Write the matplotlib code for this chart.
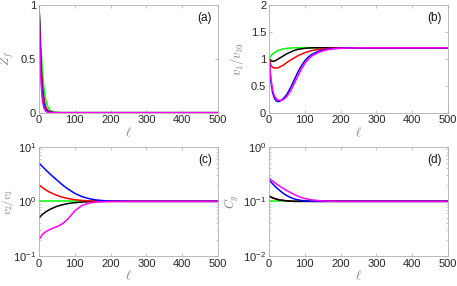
import matplotlib
matplotlib.use("Agg")
import matplotlib.pyplot as plt
from matplotlib.ticker import LogLocator, NullFormatter
from matplotlib.transforms import blended_transform_factory

plt.rcParams['font.family'] = ['Liberation Sans', 'DejaVu Sans']
plt.rcParams['mathtext.fontset'] = 'cm'

colors = {'green': '#00ff00', 'black': '#000000', 'red': '#ff0000', 'blue': '#0000ff', 'magenta': '#ff00ff'}
order = ['green', 'black', 'red', 'blue', 'magenta']

# (a) Z_f
ell_a = [0, 2, 4, 6, 8, 10, 14, 18, 24, 30, 40, 60, 500]
zf = {
    'green':   [1, 0.86, 0.72, 0.58, 0.46, 0.36, 0.22, 0.13, 0.06, 0.025, 0.005, 0, 0],
    'black':   [1, 0.78, 0.58, 0.42, 0.30, 0.22, 0.11, 0.055, 0.02, 0.008, 0.001, 0, 0],
    'red':     [1, 0.76, 0.56, 0.40, 0.28, 0.20, 0.10, 0.05, 0.018, 0.006, 0.001, 0, 0],
    'blue':    [1, 0.72, 0.50, 0.34, 0.23, 0.15, 0.07, 0.03, 0.01, 0.003, 0, 0, 0],
    'magenta': [1, 0.66, 0.42, 0.27, 0.17, 0.10, 0.04, 0.015, 0.004, 0.001, 0, 0, 0],
}

# (b) v1/v10
ell_b = [0, 5, 10, 15, 20, 25, 30, 40, 50, 60, 70, 80, 90, 100, 110, 120, 140, 160, 180, 200, 250, 300, 500]
v1 = {
    'green':   [1.0, 1.05, 1.08, 1.11, 1.13, 1.15, 1.16, 1.18, 1.19, 1.195, 1.2, 1.2, 1.2, 1.2, 1.2, 1.2, 1.2, 1.2, 1.2, 1.2, 1.2, 1.2, 1.2],
    'black':   [1.0, 0.96, 0.95, 0.955, 0.97, 0.99, 1.01, 1.05, 1.09, 1.12, 1.15, 1.17, 1.18, 1.19, 1.195, 1.2, 1.2, 1.2, 1.2, 1.2, 1.2, 1.2, 1.2],
    'red':     [1.0, 0.88, 0.84, 0.825, 0.825, 0.83, 0.845, 0.88, 0.93, 0.97, 1.01, 1.05, 1.08, 1.11, 1.13, 1.15, 1.17, 1.185, 1.195, 1.2, 1.2, 1.2, 1.2],
    'blue':    [1.0, 0.6, 0.37, 0.27, 0.22, 0.205, 0.21, 0.26, 0.34, 0.46, 0.6, 0.74, 0.86, 0.96, 1.03, 1.08, 1.14, 1.17, 1.185, 1.195, 1.2, 1.2, 1.2],
    'magenta': [1.0, 0.65, 0.42, 0.31, 0.26, 0.235, 0.225, 0.24, 0.3, 0.4, 0.53, 0.67, 0.8, 0.91, 0.99, 1.05, 1.12, 1.16, 1.18, 1.19, 1.2, 1.2, 1.2],
}

# (c) v2/v1
ell_c = [0, 10, 20, 30, 40, 50, 60, 70, 80, 90, 100, 120, 140, 160, 180, 200, 250, 300, 500]
v21 = {
    'green':   [1, 1, 1, 1, 1, 1, 1, 1, 1, 1, 1, 1, 1, 1, 1, 1, 1, 1, 1],
    'black':   [0.5, 0.58, 0.65, 0.71, 0.76, 0.81, 0.85, 0.88, 0.91, 0.93, 0.945, 0.97, 0.985, 0.992, 0.996, 1, 1, 1, 1],
    'red':     [2.0, 1.78, 1.6, 1.47, 1.37, 1.29, 1.22, 1.17, 1.13, 1.1, 1.07, 1.04, 1.02, 1.01, 1.005, 1, 1, 1, 1],
    'blue':    [5.0, 4.3, 3.7, 3.2, 2.8, 2.45, 2.15, 1.9, 1.7, 1.54, 1.4, 1.22, 1.12, 1.06, 1.03, 1.015, 1, 1, 1],
    'magenta': [0.2, 0.25, 0.28, 0.305, 0.325, 0.345, 0.37, 0.41, 0.47, 0.56, 0.67, 0.84, 0.93, 0.97, 0.985, 0.993, 1, 1, 1],
}

# (d) C_g
ell_d = [0, 10, 20, 30, 40, 50, 60, 70, 80, 90, 100, 120, 140, 160, 200, 300, 500]
cg = {
    'green':   [0.1] * 17,
    'red':     [0.125, 0.116, 0.11, 0.106, 0.104, 0.102, 0.101, 0.1, 0.1, 0.1, 0.1, 0.1, 0.1, 0.1, 0.1, 0.1, 0.1],
    'black':   [0.125, 0.116, 0.11, 0.106, 0.104, 0.102, 0.101, 0.1, 0.1, 0.1, 0.1, 0.1, 0.1, 0.1, 0.1, 0.1, 0.1],
    'blue':    [0.245, 0.21, 0.18, 0.158, 0.14, 0.127, 0.118, 0.111, 0.107, 0.104, 0.102, 0.1, 0.1, 0.1, 0.1, 0.1, 0.1],
    'magenta': [0.265, 0.235, 0.21, 0.19, 0.172, 0.157, 0.145, 0.134, 0.125, 0.118, 0.113, 0.106, 0.103, 0.101, 0.1, 0.1, 0.1],
}
order_d = ['green', 'red', 'black', 'blue', 'magenta']

W, H = 457, 286
fig = plt.figure(figsize=(W / 100, H / 100), dpi=100)

def rect(l, t, r, b):
    return [l / W, 1 - b / H, (r - l) / W, (b - t) / H]

axa = fig.add_axes(rect(39, 4.5, 218, 112.7))
axb = fig.add_axes(rect(269, 4.5, 448, 112.7))
axc = fig.add_axes(rect(39, 146.7, 218, 256))
axd = fig.add_axes(rect(269, 146.7, 448, 256))

spine_col = '#b0b0b0'
tick_col = '#262626'
lab_col = '#808080'
fs = 8

def style(ax, letter, ylabel, ylab_right_px, ylab_fs=9):
    ax.set_xlim(0, 500)
    ax.set_xticks([0, 100, 200, 300, 400, 500])
    for s in ax.spines.values():
        s.set_color(spine_col)
        s.set_linewidth(0.6)
    ax.tick_params(which='both', direction='in', top=True, right=True, color=spine_col,
                   labelcolor=tick_col, labelsize=fs, width=0.5, pad=2)
    ax.tick_params(which='major', length=2.5)
    ax.tick_params(which='minor', length=1.4)
    ax.set_xlabel(r'$\ell$', color=lab_col, fontsize=9, labelpad=0)
    ax.set_ylabel(ylabel, color=lab_col, fontsize=ylab_fs)
    tr = blended_transform_factory(fig.transFigure, ax.transAxes)
    ax.yaxis.set_label_coords(ylab_right_px / W, 0.5, transform=tr)
    ax.text(0.965, 0.935, letter, transform=ax.transAxes, ha='right', va='top',
            fontsize=8.5, color='#111111')

lw = 1.1
for c in order:
    axa.plot(ell_a, zf[c], color=colors[c], lw=lw)
    axb.plot(ell_b, v1[c], color=colors[c], lw=lw)
    axc.plot(ell_c, v21[c], color=colors[c], lw=lw)
for c in order_d:
    axd.plot(ell_d, cg[c], color=colors[c], lw=lw)

axa.set_ylim(0, 1)
axa.set_yticks([0, 0.5, 1])
axa.set_yticklabels(['0', '0.5', '1'])
axb.set_ylim(0, 2)
axb.set_yticks([0, 0.5, 1, 1.5, 2])
axb.set_yticklabels(['0', '0.5', '1', '1.5', '2'])
axc.set_yscale('log')
axc.set_ylim(0.1, 10)
axd.set_yscale('log')
axd.set_ylim(0.01, 1)
for ax in (axc, axd):
    ax.yaxis.set_minor_locator(LogLocator(base=10, subs=range(2, 10)))
    ax.yaxis.set_minor_formatter(NullFormatter())

style(axa, '(a)', r'$Z_f$', 16)
style(axb, '(b)', r'$v_1/v_{10}$', 246)
style(axc, '(c)', r'$v_2/v_1$', 16.5, ylab_fs=8)
style(axd, '(d)', r'$C_g$', 241)

fig.savefig('out.png', dpi=100)
